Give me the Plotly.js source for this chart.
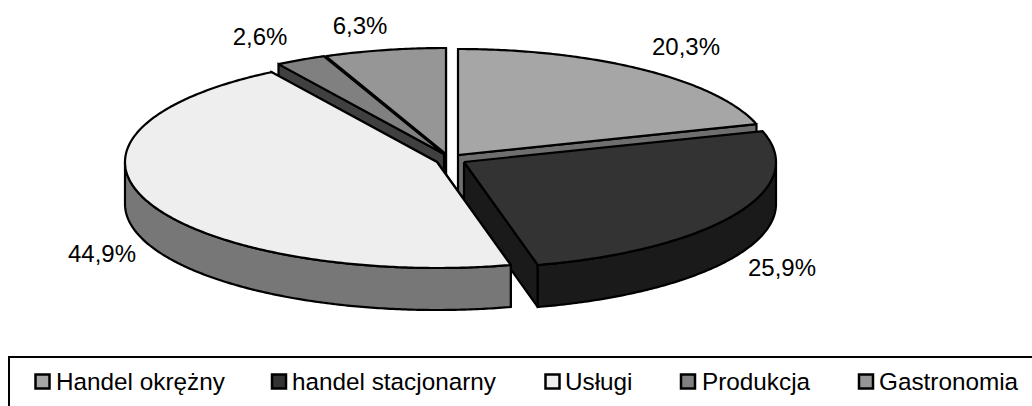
<!DOCTYPE html>
<html>
<head>
<meta charset="utf-8">
<script src="https://cdn.plot.ly/plotly-3.0.1.min.js"></script>
<style>html,body{margin:0;padding:0;background:#fff}#chart{width:1032px;height:406px}</style>
</head>
<body>
<div id="chart"></div>
<script>
// data
const categories = ["Handel okrężny", "handel stacjonarny", "Usługi", "Produkcja", "Gastronomia"];
const shares = [20.3, 25.9, 44.9, 2.6, 6.3];
const shareLabels = ["20,3%", "25,9%", "44,9%", "2,6%", "6,3%"];

// style and layout
const topColors = ["#a6a6a6", "#333333", "#eeeeee", "#808080", "#969696"];
const sideColors = ["#6f6f6f", "#1a1a1a", "#777777", "#404040", "#4b4b4b"];
const apexX = [458, 464, 437, 444, 446];
const apexY = [155, 162, 162, 154, 154];
const labelX = [686, 782, 102, 260, 360];
const labelY = [49, 270, 256, 39, 28];
const legendKeyX = [42.5, 279, 552.5, 688, 866];
const legendTextX = [57, 293, 566, 703, 880];
const drawOrder = [0, 1, 4, 3, 2];
const RX = 312, RY = 106, DEPTH = 42;
const FONT = "Liberation Sans, Arial, sans-serif";

const total = shares.reduce((a, b) => a + b, 0);
const starts = [];
shares.reduce((acc, v, i) => { starts[i] = acc; return acc + v; }, 0);
const rad = v => v / total * 2 * Math.PI;

function rim(i, a0, a1, dy) {
  const xs = [], ys = [];
  const n = Math.max(2, Math.ceil((a1 - a0) / 0.01));
  for (let k = 0; k <= n; k++) {
    const a = a0 + (a1 - a0) * k / n;
    xs.push(apexX[i] + RX * Math.sin(a));
    ys.push(apexY[i] - RY * Math.cos(a) + dy);
  }
  return [xs, ys];
}
function poly(xs, ys, fill) {
  return {type: "scatter", mode: "lines", x: xs, y: ys, fill: "toself", fillcolor: fill,
          line: {color: "#000", width: 2.2, simplify: false}, hoverinfo: "skip", showlegend: false};
}
const traces = [];
drawOrder.forEach(i => {
  const a0 = rad(starts[i]), a1 = rad(starts[i] + shares[i]);
  const px = apexX[i], py = apexY[i];
  const radial = a => [
    [px, px + RX * Math.sin(a), px + RX * Math.sin(a), px, px],
    [py, py - RY * Math.cos(a), py - RY * Math.cos(a) + DEPTH, py + DEPTH, py]
  ];
  // cut faces that face the viewer
  if (a1 < Math.PI || a1 > 1.5 * Math.PI) { const r = radial(a1); traces.push(poly(r[0], r[1], sideColors[i])); }
  if (a0 > 0.5 * Math.PI) { const r = radial(a0); traces.push(poly(r[0], r[1], sideColors[i])); }
  // outer wall on the front half
  const w0 = Math.max(a0, 0.5 * Math.PI), w1 = Math.min(a1, 1.5 * Math.PI);
  if (w1 > w0) {
    const upper = rim(i, w0, w1, 0), lower = rim(i, w0, w1, DEPTH);
    traces.push(poly(upper[0].concat(lower[0].slice().reverse(), [upper[0][0]]),
                     upper[1].concat(lower[1].slice().reverse(), [upper[1][0]]), sideColors[i]));
  }
  // top face
  const t = rim(i, a0, a1, 0);
  traces.push(poly([px].concat(t[0], [px]), [py].concat(t[1], [py]), topColors[i]));
});

// percentage labels
traces.push({type: "scatter", mode: "text", x: labelX, y: labelY, text: shareLabels,
  textposition: "middle center", textfont: {family: FONT, size: 24, color: "#000"},
  hoverinfo: "skip", showlegend: false});
// legend keys
traces.push({type: "scatter", mode: "markers", x: legendKeyX, y: categories.map(() => 381.5),
  marker: {symbol: "square", size: 14, color: topColors, line: {color: "#000", width: 2.5}},
  hoverinfo: "skip", showlegend: false});

const annotations = categories.map((c, i) => ({
  xref: "x", yref: "y", x: legendTextX[i], y: 381, text: c, showarrow: false,
  xanchor: "left", yanchor: "middle", xshift: -3, font: {family: FONT, size: 24.3, color: "#000"}
}));

Plotly.newPlot("chart", traces, {
  width: 1032, height: 406, margin: {l: 0, r: 0, t: 0, b: 0},
  paper_bgcolor: "#fff", plot_bgcolor: "#fff", showlegend: false,
  xaxis: {range: [0, 1032], visible: false, fixedrange: true},
  yaxis: {range: [406, 0], visible: false, fixedrange: true},
  shapes: [{type: "path", path: "M 9 406 L 9 357 L 1032 357", xref: "x", yref: "y",
            line: {color: "#000", width: 2}}],
  annotations: annotations
}, {displayModeBar: false, staticPlot: true});
</script>
</body>
</html>
